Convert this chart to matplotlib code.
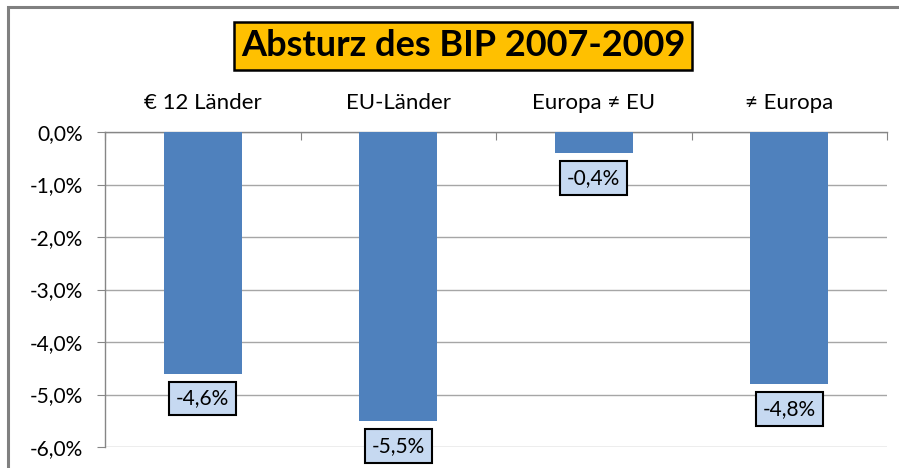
import matplotlib.pyplot as plt
from matplotlib.patches import Rectangle
from matplotlib.ticker import FuncFormatter

categories = ["€ 12 Länder", "EU-Länder", "Europa ≠ EU", "≠ Europa"]
values = [-4.6, -5.5, -0.4, -4.8]
labels = ["-4,6%", "-5,5%", "-0,4%", "-4,8%"]
title = "Absturz des BIP 2007-2009"

plt.rcParams['font.family'] = ['Lato', 'DejaVu Sans']

fig = plt.figure(figsize=(8.99, 4.68), dpi=100)
ax = fig.add_axes([105/899, 1 - 447/468, (887-105)/899, (447-132)/468])

x = list(range(len(categories)))
ax.bar(x, values, width=0.4, color='#4F81BD', zorder=3)

ax.set_xlim(-0.5, 3.5)
ax.set_ylim(-6, 0)
ax.set_yticks([0, -1, -2, -3, -4, -5, -6])
ax.yaxis.set_major_formatter(FuncFormatter(lambda v, p: ("%.1f%%" % v).replace(".", ",")))
ax.grid(axis='y', color='#A6A6A6', lw=1, zorder=0)
ax.set_axisbelow(True)

for s in ['right', 'bottom']:
    ax.spines[s].set_visible(False)
for s in ['left', 'top']:
    ax.spines[s].set_color('#868686')
    ax.spines[s].set_linewidth(1)

ax.tick_params(axis='y', colors='#868686', length=6, pad=10, labelsize=15, labelcolor='black')

# category labels at top, ticks at the boundaries
ax.xaxis.tick_top()
ax.set_xticks([-0.5, 0.5, 1.5, 2.5, 3.5])
ax.set_xticklabels([])
ax.tick_params(axis='x', which='major', direction='in', length=6, colors='#868686')
ax.set_xticks(x, minor=True)
ax.set_xticklabels(categories, minor=True)
ax.tick_params(axis='x', which='minor', length=0, pad=14, labelsize=16, labelcolor='black')

for i, v in enumerate(values):
    ax.annotate(labels[i], (i, v), xytext=(0, -18), textcoords='offset points',
                ha='center', va='center', fontsize=15, zorder=5,
                bbox=dict(boxstyle='square,pad=0.33', fc='#C6D9F1', ec='black', lw=1.5))

# title box
fig.text(463/899, 1 - 46/468, title, ha='center', va='center', fontsize=26, fontweight='bold',
         bbox=dict(boxstyle='square,pad=0.2', fc='#FFC000', ec='black', lw=1.8))

# outer chart frame (partially visible)
fig.add_artist(Rectangle((8/899, -0.2), 1.2, 1.2 - 7/468, transform=fig.transFigure,
                         fill=False, ec='#808080', lw=2.2))

fig.savefig('out.png', dpi=100)
